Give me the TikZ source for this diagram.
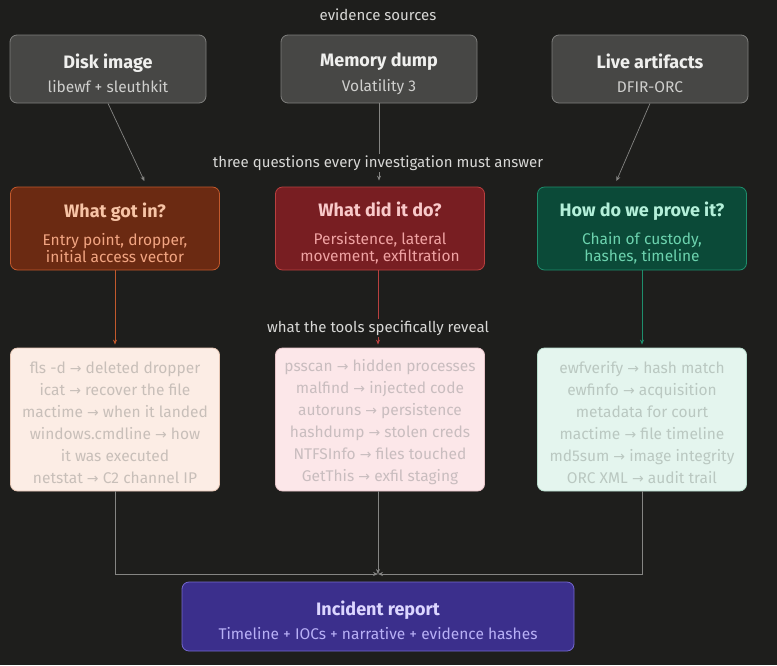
\documentclass[tikz,border=0pt]{standalone}
\usepackage{fontspec}
\setmainfont{Fira Sans}
\newfontfamily\arrfont{DejaVu Sans}
\usepackage{xcolor}
\usetikzlibrary{arrows.meta,positioning,calc}

\definecolor{bg}{HTML}{1E1E1C}
\definecolor{lnG}{HTML}{858583}
\definecolor{lblT}{HTML}{D8D8D6}
\definecolor{srcF}{HTML}{474745}
\definecolor{srcD}{HTML}{7E7E7C}
\definecolor{srcT}{HTML}{F0F0EE}
\definecolor{srcS}{HTML}{CFCFCD}
\definecolor{gotF}{HTML}{6B2A12}
\definecolor{gotD}{HTML}{C2592C}
\definecolor{gotT}{HTML}{F7C4A6}
\definecolor{gotS}{HTML}{F2A582}
\definecolor{didF}{HTML}{781E22}
\definecolor{didD}{HTML}{B9403F}
\definecolor{didT}{HTML}{F9CACA}
\definecolor{didS}{HTML}{F0A3A3}
\definecolor{prvF}{HTML}{0B4A38}
\definecolor{prvD}{HTML}{1E8E6C}
\definecolor{prvT}{HTML}{B4F0DA}
\definecolor{prvS}{HTML}{6CD3AE}
\definecolor{flsF}{HTML}{FCEDE5}
\definecolor{flsD}{HTML}{E6C7B5}
\definecolor{flsT}{HTML}{C8BFB9}
\definecolor{pssF}{HTML}{FCE7E9}
\definecolor{pssD}{HTML}{E6C4C8}
\definecolor{pssT}{HTML}{C9BDBF}
\definecolor{ewfF}{HTML}{E4F5EE}
\definecolor{ewfD}{HTML}{B8DDCD}
\definecolor{ewfT}{HTML}{BAC8C1}
\definecolor{repF}{HTML}{3B2F8C}
\definecolor{repD}{HTML}{7468CF}
\definecolor{repT}{HTML}{DCD6FF}
\definecolor{repS}{HTML}{B8B0F6}

\newcommand{\hd}[2][23pt]{{\fontsize{18}{22}\selectfont\bfseries\color{ttl}\rule{0pt}{#1}#2}}
\newcommand{\yields}{{\arrfont\fontsize{14}{22}\selectfont →}}

\begin{document}
\begin{tikzpicture}[x=1pt,y=-1pt,
  every node/.style={font=\fontsize{15.5}{17.5}\selectfont},
  box/.style={rounded corners=7pt,align=center,line width=0.8pt,inner sep=0pt},
  src/.style={box,minimum width=196pt,minimum height=68pt,fill=srcF,draw=srcD,text=srcS,
    execute at begin node=\colorlet{ttl}{srcT}},
  qbox/.style={box,minimum width=209pt,minimum height=83pt},
  tbox/.style={box,minimum width=209pt,minimum height=143pt,
    font=\fontsize{15.5}{22}\selectfont},
  lbl/.style={fill=bg,text=lblT,inner sep=2pt,font=\fontsize{15}{17}\selectfont},
  ln/.style={lnG,line width=0.7pt,-{Stealth[length=5pt,width=4pt]}}]
 \fill[bg] (0,0) rectangle (777,665);
 \useasboundingbox (0,0) rectangle (777,665);
 % evidence sources
 \node[lbl] (lsrc) at (378,15) {evidence sources};
 \node[src] (disk) at (108,69) {\hd{Disk image}\\[7pt]libewf + sleuthkit};
 \node[src] (mem)  at (379,69) {\hd{Memory dump}\\[7pt]Volatility 3};
 \node[src] (live) at (650,69) {\hd{Live artifacts}\\[7pt]DFIR-ORC};
 % questions
 \node[qbox,fill=gotF,draw=gotD,text=gotS,execute at begin node=\colorlet{ttl}{gotT}]
   (gotin) at (115,228.5) {\hd[24pt]{What got in?}\\[10pt]Entry point, dropper,\\initial access vector};
 \node[qbox,fill=didF,draw=didD,text=didS,execute at begin node=\colorlet{ttl}{didT}]
   (didit) at (380,228.5) {\hd[24pt]{What did it do?}\\[10pt]Persistence, lateral\\movement, exfiltration};
 \node[qbox,fill=prvF,draw=prvD,text=prvS,execute at begin node=\colorlet{ttl}{prvT}]
   (prove) at (642,228.5) {\hd[24pt]{How do we prove it?}\\[10pt]Chain of custody,\\hashes, timeline};
 % tools
 \node[tbox,fill=flsF,draw=flsD,text=flsT] (fls) at (115,419.5)
   {\rule{0pt}{18pt}fls -d \yields{} deleted dropper\\icat \yields{} recover the file\\mactime \yields{} when it landed\\
    windows.cmdline \yields{} how\\it was executed\\netstat \yields{} C2 channel IP};
 \node[tbox,fill=pssF,draw=pssD,text=pssT] (pss) at (380,419.5)
   {\rule{0pt}{18pt}psscan \yields{} hidden processes\\malfind \yields{} injected code\\autoruns \yields{} persistence\\
    hashdump \yields{} stolen creds\\NTFSInfo \yields{} files touched\\GetThis \yields{} exfil staging};
 \node[tbox,fill=ewfF,draw=ewfD,text=ewfT] (ewf) at (642,419.5)
   {\rule{0pt}{18pt}ewfverify \yields{} hash match\\ewfinfo \yields{} acquisition\\metadata for court\\
    mactime \yields{} file timeline\\md5sum \yields{} image integrity\\ORC XML \yields{} audit trail};
 % report
 \node[box,minimum width=392pt,minimum height=69pt,fill=repF,draw=repD,text=repS,
   execute at begin node=\colorlet{ttl}{repT}]
   (report) at (378,616.5) {\hd[22pt]{Incident report}\\[7pt]Timeline + IOCs + narrative + evidence hashes};
 \coordinate (join) at (378,574);
 % connectors
 \draw[ln,shorten >=6pt] (disk.south) -- ([xshift=32pt]gotin.north);
 \draw[ln] (mem.south) -- ([yshift=6pt]mem.south |- didit.north);
 \draw[ln,shorten >=6pt] (live.south) -- ([xshift=-28pt]prove.north);
 \draw[ln,gotD] (gotin.south) -- ([yshift=3pt]fls.north);
 \draw[ln,didD] ([xshift=-2pt]didit.south) -- ([xshift=-2pt,yshift=3pt]pss.north);
 \draw[ln,prvD] (prove.south) -- ([yshift=3pt]ewf.north);
 \draw[ln] (fls.south) |- (join);
 \draw[ln] (ewf.south) |- (join);
 \draw[ln] ([xshift=-2pt]pss.south) -- (join);
 % labels over the lines
 \node[lbl] (lq) at (378,163) {three questions every investigation must answer};
 \node[lbl] (lt) at (378,328) {what the tools specifically reveal};
\end{tikzpicture}
\end{document}
